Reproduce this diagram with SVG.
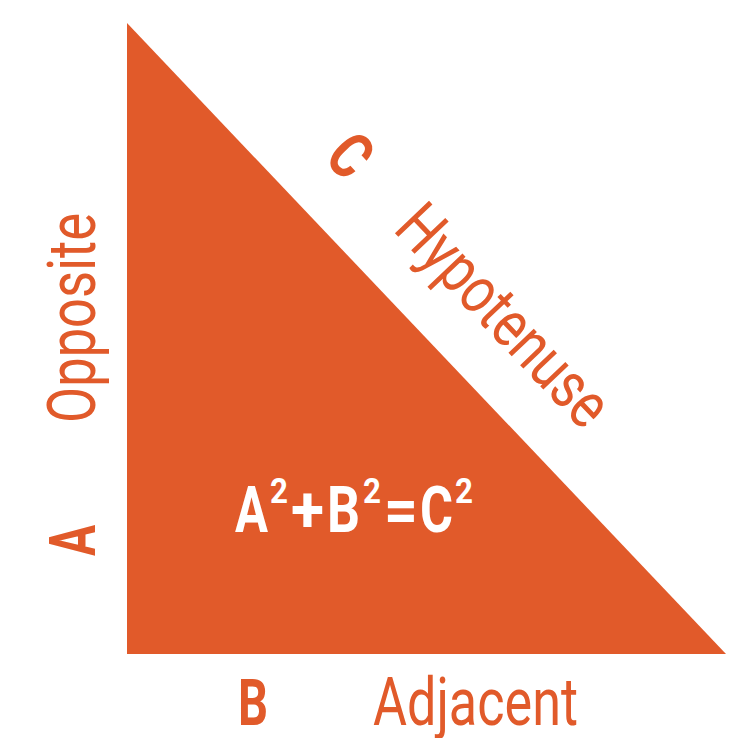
<svg xmlns="http://www.w3.org/2000/svg" width="753" height="738" viewBox="0 0 753 738">
<style>
.o{fill:#E15A2A;font-family:Roboto,"Liberation Sans",sans-serif}
.w{fill:#FFFFFF;font-family:Roboto,"Liberation Sans",sans-serif;font-weight:bold}
.b{font-weight:bold;font-size:65px}
.r{font-size:66px}
.big{font-size:65px}
.sup{font-size:35px}
</style>
<rect width="753" height="738" fill="#FFFFFF"/>
<g id="triangle">
<polygon points="127,23 127,654 726,654" fill="#E15A2A"/>
</g>
<g id="formula">
<text class="w big" x="235" y="532" textLength="33" lengthAdjust="spacingAndGlyphs">A</text>
<text class="w sup" x="270" y="503" textLength="18" lengthAdjust="spacingAndGlyphs">2</text>
<text class="w big" x="291" y="532" textLength="33" lengthAdjust="spacingAndGlyphs">+</text>
<text class="w big" x="327" y="532" textLength="33" lengthAdjust="spacingAndGlyphs">B</text>
<text class="w sup" x="363" y="503" textLength="18" lengthAdjust="spacingAndGlyphs">2</text>
<text class="w big" x="384" y="532" textLength="34" lengthAdjust="spacingAndGlyphs">=</text>
<text class="w big" x="420" y="532" textLength="33" lengthAdjust="spacingAndGlyphs">C</text>
<text class="w sup" x="455" y="503" textLength="18" lengthAdjust="spacingAndGlyphs">2</text>
</g>
<g id="side-b">
<text class="o b" x="238" y="725" textLength="30" lengthAdjust="spacingAndGlyphs">B</text>
<text class="o r" x="373" y="725" textLength="205" lengthAdjust="spacingAndGlyphs">Adjacent</text>
</g>
<g id="side-a">
<text class="o b" transform="translate(95,556) rotate(-90)" x="0" y="0" textLength="31" lengthAdjust="spacingAndGlyphs">A</text>
<text class="o r" transform="translate(95,423) rotate(-90)" x="0" y="0" textLength="210" lengthAdjust="spacingAndGlyphs">Opposite</text>
</g>
<g id="side-c">
<text class="o b" transform="translate(334,171) rotate(46.5)" x="0" y="0" text-anchor="middle" textLength="33" lengthAdjust="spacingAndGlyphs">C</text>
<text class="o r" transform="translate(392,230) rotate(46.5)" x="0" y="0" textLength="278" lengthAdjust="spacingAndGlyphs">Hypotenuse</text>
</g>
<g id="connectors"/>
</svg>
